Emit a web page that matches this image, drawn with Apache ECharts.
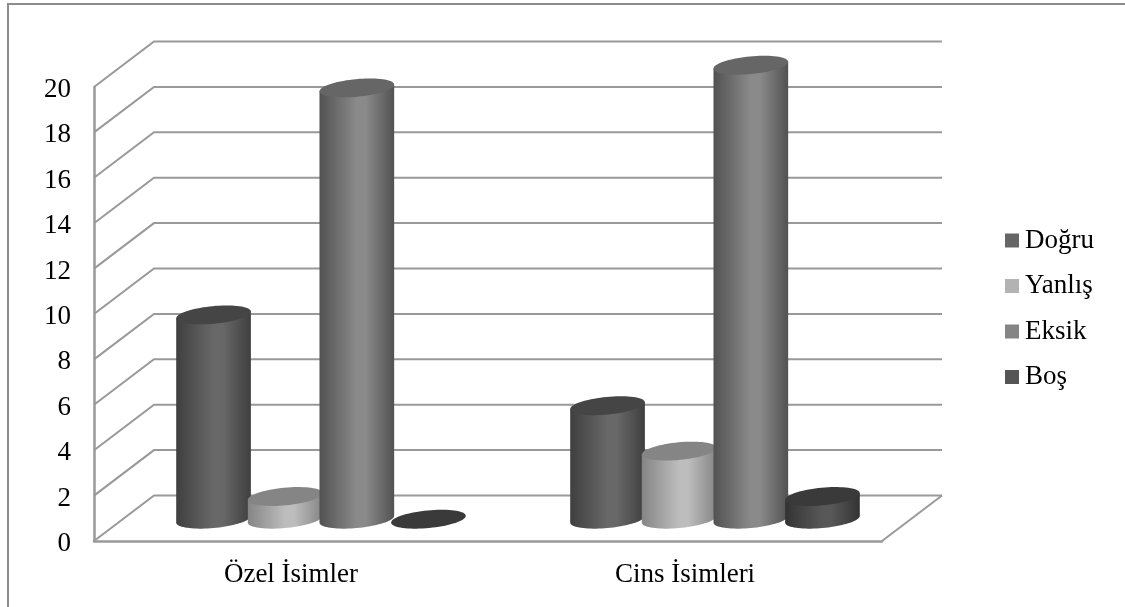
<!DOCTYPE html>
<html>
<head>
<meta charset="utf-8">
<style>html,body{margin:0;padding:0;background:#fff}#chart{width:1125px;height:607px}</style>
<script src="https://cdn.jsdelivr.net/npm/echarts@6/dist/echarts.min.js"></script>
</head>
<body>
<div id="chart"></div>
<script>
// Chart data
const categories = ['Özel İsimler', 'Cins İsimleri'];
const dogru = [9, 5];
const yanlis = [1, 3];
const eksik = [19, 20];
const bos = [0, 1];
const wallTicks = [0, 2, 4, 6, 8, 10, 12, 14, 16, 18, 20];

// Pseudo-3D projection of the chart box
const DEPTH_X = 60;
const DEPTH_Y = 45.5;
const BAR_LIFT = 21.8;
const TILT = 0.095;
const RX = 37.5;
const RY = 8.8;
const SLOT_DIVISOR = 5.5;
const LINE = '#999999';
const FONT = '"Liberation Serif", "Times New Roman", serif';
const FONT_SIZE = 27;

const T0 = Math.atan((RY / RX) * Math.tan(TILT));

function ellipseArc(cx, cy, from, to, n) {
  const pts = [];
  for (let i = 0; i <= n; i++) {
    const t = from + (to - from) * i / n;
    const x = RX * Math.cos(t), y = RY * Math.sin(t);
    pts.push([cx + x * Math.cos(TILT) + y * Math.sin(TILT),
              cy - x * Math.sin(TILT) + y * Math.cos(TILT)]);
  }
  return pts;
}

function cylinderSeries(name, values, slotIndex, legendColor, edge, mid, cap) {
  return {
    name,
    type: 'custom',
    coordinateSystem: 'cartesian2d',
    z: 3 + slotIndex,
    itemStyle: { color: legendColor },
    encode: { x: 0, y: 1 },
    data: values.map((v, i) => [i, v]),
    renderItem(params, api) {
      const top = api.coord([api.value(0), api.value(1)]);
      const base = api.coord([api.value(0), 0]);
      const slot = api.size([1, 0])[0] / SLOT_DIVISOR;
      const cx = base[0] + (slotIndex - 1.5) * slot + DEPTH_X / 2;
      const baseY = base[1] - BAR_LIFT;
      const topY = top[1] - BAR_LIFT;
      const children = [];
      if (baseY - topY > 0.5) {
        const bottomArc = ellipseArc(cx, baseY, T0, T0 + Math.PI, 40);
        const left = bottomArc[bottomArc.length - 1];
        const right = bottomArc[0];
        const points = bottomArc.concat([[left[0], left[1] - (baseY - topY)], [right[0], right[1] - (baseY - topY)]]);
        children.push({
          type: 'polygon',
          shape: { points },
          style: {
            fill: {
              type: 'linear', x: 0, y: 0, x2: 1, y2: 0,
              colorStops: [
                { offset: 0, color: edge },
                { offset: 0.5, color: mid },
                { offset: 0.62, color: mid },
                { offset: 1, color: edge }
              ]
            }
          }
        });
      }
      children.push({
        type: 'polygon',
        shape: { points: ellipseArc(cx, topY, 0, Math.PI * 2, 72) },
        style: { fill: cap }
      });
      return { type: 'group', children };
    }
  };
}

// Back wall and side wall rules, one per value tick, plus the right floor edge
const wallSeries = {
  name: 'wall',
  type: 'custom',
  coordinateSystem: 'cartesian2d',
  z: 1,
  silent: true,
  data: wallTicks.map(v => [0, v]),
  renderItem(params, api) {
    const v = api.value(1);
    const p = api.coord([0, v]);
    const band = api.size([1, 0])[0];
    const x0 = p[0] - band / 2;
    const x1 = p[0] + band * 1.5;
    const style = { stroke: LINE, lineWidth: 2, fill: 'none' };
    const children = [{
      type: 'polyline',
      shape: { points: [[x0, p[1]], [x0 + DEPTH_X, p[1] - DEPTH_Y], [x1 + DEPTH_X, p[1] - DEPTH_Y]] },
      style
    }];
    if (v === 0) {
      children.push({
        type: 'line',
        shape: { x1: x1, y1: p[1], x2: x1 + DEPTH_X, y2: p[1] - DEPTH_Y },
        style
      });
    }
    return { type: 'group', children };
  }
};

const chart = echarts.init(document.getElementById('chart'), null, { renderer: 'canvas' });
chart.setOption({
  animation: false,
  backgroundColor: '#ffffff',
  grid: { left: 94, right: 243, top: 87, bottom: 66 },
  legend: {
    orient: 'vertical',
    left: 1005,
    top: 227,
    padding: 0,
    itemWidth: 14,
    itemHeight: 14,
    itemGap: 18.5,
    icon: 'rect',
    selectedMode: false,
    data: ['Doğru', 'Yanlış', 'Eksik', 'Boş'],
    textStyle: { fontFamily: FONT, fontSize: FONT_SIZE, color: '#000', padding: [0, 0, 0, 1], lineHeight: 24, height: 24 }
  },
  xAxis: {
    type: 'category',
    data: categories,
    axisTick: { show: false },
    axisLine: { show: true, lineStyle: { color: LINE, width: 2.5 } },
    axisLabel: { color: '#000', fontFamily: FONT, fontSize: FONT_SIZE, margin: 20 },
    splitLine: { show: false }
  },
  yAxis: {
    type: 'value',
    min: 0,
    max: 20,
    interval: 2,
    axisTick: { show: false },
    axisLine: { show: true, lineStyle: { color: LINE, width: 2.5 } },
    // Top-anchored with a short line box: digits sit a little below the tick
    axisLabel: { color: '#000', fontFamily: FONT, fontSize: FONT_SIZE, margin: 23, verticalAlign: 'top', lineHeight: 6 },
    splitLine: { show: false }
  },
  graphic: [{
    type: 'polyline',
    silent: true,
    shape: { points: [[8, 607], [8, 4], [1125, 4]] },
    style: { stroke: '#8c8c8c', lineWidth: 2, fill: 'none' }
  }],
  series: [
    wallSeries,
    cylinderSeries('Doğru', dogru, 0, '#666666', '#3f3f3f', '#686868', '#454545'),
    cylinderSeries('Yanlış', yanlis, 1, '#b3b3b3', '#858585', '#bdbdbd', '#858585'),
    cylinderSeries('Eksik', eksik, 2, '#858585', '#525252', '#8a8a8a', '#666666'),
    cylinderSeries('Boş', bos, 3, '#555555', '#333333', '#585858', '#3a3a3a')
  ]
});
</script>
</body>
</html>
